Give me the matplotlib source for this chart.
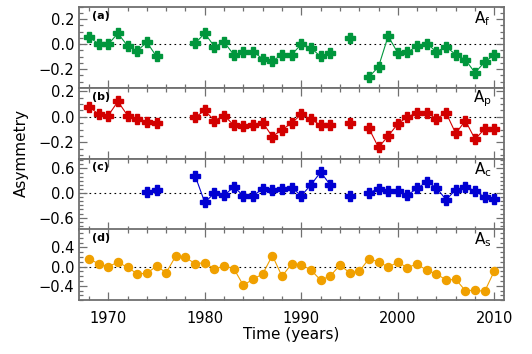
import numpy as np
import matplotlib
matplotlib.use('Agg')
import matplotlib.pyplot as plt
from matplotlib.ticker import MultipleLocator

nan = np.nan
years = np.arange(1968, 2011)

# asymmetry values per year, nan = no data
a_f = [0.055, 0.005, 0.0, 0.087, -0.013, -0.053, 0.016, -0.098,
       nan, nan, nan,
       0.008, 0.087, -0.019, 0.018, -0.084, -0.066, -0.06, -0.116, -0.134, -0.084, -0.084,
       0.0, -0.03, -0.098, -0.07, nan, 0.052, nan,
       -0.263, -0.18, 0.065, -0.07, -0.063, -0.016, 0.005, -0.06, -0.019, -0.084,
       -0.124, -0.228, -0.142, -0.084]

a_p = [0.08, 0.02, 0.01, 0.12, 0.01, -0.018, -0.04, -0.045,
       nan, nan, nan,
       -0.005, 0.05, -0.03, 0.01, -0.065, -0.07, -0.065, -0.045, -0.155, -0.1, -0.05,
       0.02, -0.02, -0.065, -0.065, nan, -0.047, nan,
       -0.09, -0.24, -0.15, -0.055, 0.0, 0.03, 0.03, -0.015, 0.03, -0.13,
       -0.03, -0.175, -0.095, -0.095]

a_c = [nan, nan, nan, nan, nan, nan, 0.03, 0.065,
       nan, nan, nan,
       0.42, -0.23, 0.0, -0.06, 0.15, -0.065, -0.065, 0.1, 0.08, 0.1, 0.13,
       -0.065, 0.2, 0.51, 0.2, nan, -0.08, nan,
       0.01, 0.1, 0.05, 0.05, -0.05, 0.115, 0.27, 0.13, -0.165, 0.08,
       0.155, 0.05, -0.1, -0.15]

a_s = [0.16, 0.06, 0.0, 0.09, -0.015, -0.15, -0.14, 0.01,
       -0.125, 0.22, 0.19,
       0.06, 0.08, -0.05, 0.01, -0.04, -0.39, -0.26, -0.155, 0.23, -0.2, 0.055,
       0.04, -0.07, -0.28, -0.195, 0.03, -0.125, -0.1,
       0.16, 0.1, -0.01, 0.09, -0.02, 0.055, -0.08, -0.15, -0.28, -0.265,
       -0.5, -0.49, -0.515, -0.09]

series = [a_f, a_p, a_c, a_s]
colors = ['#00963c', '#d20000', '#0000d2', '#f0a000']
markers = ['P', 'P', 'P', 'o']
tags = ['(a)', '(b)', '(c)', '(d)']
names = [r'A$_\mathrm{f}$', r'A$_\mathrm{p}$', r'A$_\mathrm{c}$', r'A$_\mathrm{s}$']
ylims = [(-0.35, 0.3), (-0.33, 0.225), (-0.89, 0.83), (-0.7, 0.77)]
yticks = [[-0.2, 0.0, 0.2], [-0.2, 0.0, 0.2], [-0.6, 0.0, 0.6], [-0.4, 0.0, 0.4]]
yminor = [0.05, 0.05, 0.1, 0.1]

# panel edges in pixels (top, bottom)
edges = [(6.7, 88), (88, 159), (159, 229.5), (229.5, 300.3)]

W, H = 532, 354
fig = plt.figure(figsize=(W / 100, H / 100), dpi=100)
gray = '#707070'

for i in range(4):
    top, bot = edges[i]
    ax = fig.add_axes([79.3 / W, 1 - bot / H, (504 - 79.3) / W, (bot - top) / H])
    ax.plot(years, series[i], color=colors[i], lw=0.8, marker=markers[i],
            ms=6.5 if markers[i] == 'P' else 5.8, mew=1.0, mec=colors[i], mfc=colors[i])
    ax.axhline(0, color='black', ls=(0, (1.5, 3)), lw=0.8, zorder=0)
    ax.set_xlim(1967, 2011)
    ax.set_ylim(*ylims[i])
    ax.set_yticks(yticks[i])
    ax.set_yticklabels([f'{v:.1f}'.replace('-', '\u2212') for v in yticks[i]])
    ax.yaxis.set_minor_locator(MultipleLocator(yminor[i]))
    ax.xaxis.set_major_locator(MultipleLocator(10))
    ax.xaxis.set_minor_locator(MultipleLocator(2))
    ax.tick_params(which='both', direction='in', top=True, right=True,
                   color=gray, labelsize=10.5, width=0.9)
    ax.tick_params(which='major', length=6)
    ax.tick_params(which='minor', length=3)
    for s in ax.spines.values():
        s.set_color(gray)
        s.set_linewidth(1.3)
    if i < 3:
        ax.tick_params(labelbottom=False)
    else:
        ax.tick_params(axis='x', pad=8)
    ax.text(0.03, 0.88, tags[i], transform=ax.transAxes, fontsize=8,
            fontweight='bold', va='center', ha='left')
    ax.text(0.95, 0.85, names[i], transform=ax.transAxes, fontsize=11,
            va='center', ha='center')

fig.text(291.5 / W, 1 - 335 / H, 'Time (years)', ha='center', va='center', fontsize=11)
fig.text(21 / W, 1 - 153 / H, 'Asymmetry', ha='center', va='center',
         rotation=90, fontsize=11)

fig.savefig('out.png', dpi=100)
